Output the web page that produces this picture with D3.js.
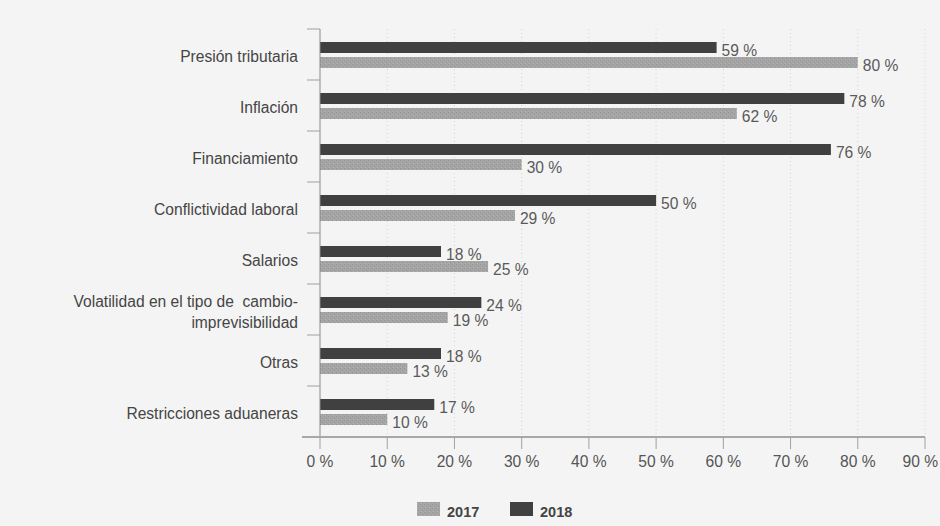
<!DOCTYPE html>
<html><head><meta charset="utf-8">
<script src="https://cdn.jsdelivr.net/npm/d3@7"></script>
<style>
html,body{margin:0;padding:0;background:#f4f4f4;}
svg{display:block;font-family:"Liberation Sans",Arial,sans-serif;}
text{white-space:pre;}
</style></head>
<body><svg id="c" width="940" height="526"></svg>
<script>
const categories = ["Presión tributaria","Inflación","Financiamiento","Conflictividad laboral","Salarios","Volatilidad en el tipo de  cambio-|imprevisibilidad","Otras","Restricciones aduaneras"];
const values2018 = [59,78,76,50,18,24,18,17];
const values2017 = [80,62,30,29,25,19,13,10];
const xTicks = [0,10,20,30,40,50,60,70,80,90];
const seriesNames = ["2017","2018"];
const colors = {"2017":"#a3a3a3","2018":"#404040"};

const FS = 15.6;
const svg = d3.select("#c");
const defs = svg.append("defs");
const pat = defs.append("pattern").attr("id","tex").attr("width",4).attr("height",4).attr("patternUnits","userSpaceOnUse");
pat.append("rect").attr("width",4).attr("height",4).attr("fill","#a5a5a5");
pat.append("rect").attr("x",0).attr("y",0).attr("width",1).attr("height",1).attr("fill","#939393");
pat.append("rect").attr("x",2).attr("y",2).attr("width",1).attr("height",1).attr("fill","#939393");
pat.append("rect").attr("x",1).attr("y",3).attr("width",1).attr("height",1).attr("fill","#b3b3b3");

const x = d3.scaleLinear().domain([0,90]).range([320,925]);
const y = d3.scaleBand().domain(categories).range([29,437]);

// gridlines
svg.append("g").selectAll("line").data(xTicks.slice(1)).join("line")
  .attr("x1",d=>x(d)).attr("x2",d=>x(d)).attr("y1",29).attr("y2",437)
  .attr("stroke","#d4d4d4").attr("stroke-dasharray","1,3");

// bars
const g = svg.append("g");
categories.forEach((c,i)=>{
  const b = y(c);
  g.append("rect").attr("x",x(0)).attr("y",b+13).attr("width",x(values2018[i])-x(0)).attr("height",11)
    .attr("fill",colors["2018"]);
  g.append("rect").attr("x",x(0)).attr("y",b+28).attr("width",x(values2017[i])-x(0)).attr("height",11)
    .attr("fill","url(#tex)");
  g.append("text").attr("x",x(values2018[i])+5).attr("y",b+27).text(values2018[i]+" %")
    .attr("font-size",FS).attr("fill","#5a5a5a");
  g.append("text").attr("x",x(values2017[i])+5).attr("y",b+42).text(values2017[i]+" %")
    .attr("font-size",FS).attr("fill","#5a5a5a");
});

// y axis
const ya = svg.append("g");
ya.append("line").attr("x1",320).attr("x2",320).attr("y1",29).attr("y2",437).attr("stroke","#8a8a8a");
ya.selectAll("line.t").data(d3.range(categories.length)).join("line").attr("class","t")
  .attr("x1",307).attr("x2",320).attr("y1",i=>y(categories[i])).attr("y2",i=>y(categories[i]))
  .attr("stroke","#a0a0a0");
categories.forEach(c=>{
  const lines = c.split("|");
  const cy = y(c)+y.bandwidth()/2;
  const t = ya.append("text").attr("text-anchor","end").attr("font-size",FS).attr("fill","#454545");
  lines.forEach((l,j)=>{
    t.append("tspan").attr("x",298).attr("y",cy+7.5+(j-(lines.length-1)/2)*21).text(l);
  });
});

// x axis
const xa = svg.append("g");
xa.append("line").attr("x1",302).attr("x2",925).attr("y1",437).attr("y2",437).attr("stroke","#a8a8a8").attr("stroke-width",2);
xa.selectAll("line.t").data(xTicks).join("line").attr("class","t")
  .attr("x1",d=>x(d)).attr("x2",d=>x(d)).attr("y1",437).attr("y2",449).attr("stroke","#a0a0a0");
xa.selectAll("text").data(xTicks).join("text")
  .attr("x",d=>x(d)).attr("y",467).attr("text-anchor","middle").attr("font-size",FS).attr("fill","#555")
  .text(d=>d+" %")
  .each(function(){
    const w = this.getComputedTextLength();
    const cx = +this.getAttribute("x");
    if (cx + w/2 > 938) this.setAttribute("x", 938 - w/2);
  });

// legend
const lg = svg.append("g");
const lx = [417,510];
seriesNames.forEach((s,i)=>{
  lg.append("rect").attr("x",lx[i]).attr("y",502).attr("width",23).attr("height",14)
    .attr("fill",s==="2017"?"url(#tex)":colors[s]);
  lg.append("text").attr("x",lx[i]+30).attr("y",517).attr("font-size",14.5).attr("font-weight","bold")
    .attr("fill","#444").text(s);
});
</script></body></html>
